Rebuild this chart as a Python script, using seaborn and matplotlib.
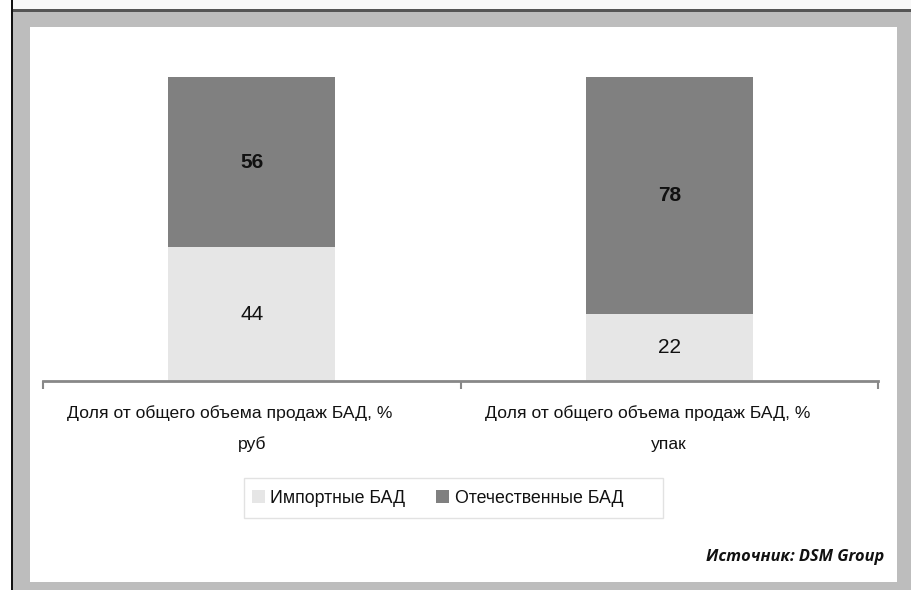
import matplotlib
matplotlib.use("Agg")
import matplotlib.pyplot as plt
from matplotlib.patches import Rectangle, Patch
import seaborn as sns
import pandas as pd

# Shares of dietary supplement sales, %
categories = ["руб", "упак"]
label_head = "Доля от общего объема продаж БАД, %"
imported = [44, 22]
domestic = [56, 78]
series_names = ["Импортные БАД", "Отечественные БАД"]
source_text = "Источник: DSM Group"

LIGHT = "#e6e6e6"
DARK = "#808080"
TEXT = "#111111"

sns.set_theme(style="white")
plt.rcParams["font.family"] = ["Liberation Sans", "DejaVu Sans"]

W, H = 911, 590
fig = plt.figure(figsize=(W / 100, H / 100), dpi=100)
fig.patch.set_facecolor("white")


def px_rect(x0, y0, x1, y1, color, z=-10, edge="none", lw=0):
    fig.patches.append(Rectangle((x0 / W, 1 - y1 / H), (x1 - x0) / W, (y1 - y0) / H,
                                 transform=fig.transFigure, facecolor=color,
                                 edgecolor=edge, linewidth=lw, zorder=z))


# page frame
px_rect(12, 0, W, 9, "#f8f8f8")
px_rect(12, 9, W, 12, "#555555")
px_rect(12, 12, W, H, "#bdbdbd")
px_rect(10.5, 0, 12.5, H, "#111111")
px_rect(30, 27, 897, 582, "white")
# legend box
px_rect(244, 478, 663, 518, "white", z=-5, edge="#e2e2e2", lw=1)

# plot area
ax_l, ax_r, ax_b, ax_t = 43, 878, 381, 77
ax = fig.add_axes([ax_l / W, 1 - ax_b / H, (ax_r - ax_l) / W, (ax_b - ax_t) / H])
ax.set_facecolor("none")

df = pd.DataFrame({"cat": categories, "imp": imported, "dom": domestic})
df["total"] = df["imp"] + df["dom"]

sns.barplot(data=df, x="cat", y="total", color=DARK, width=0.4, ax=ax,
            saturation=1, edgecolor="none")
sns.barplot(data=df, x="cat", y="imp", color=LIGHT, width=0.4, ax=ax,
            saturation=1, edgecolor="none")

ax.set_xlim(-0.5, len(categories) - 0.5)
ax.set_ylim(0, 100)
ax.set_xlabel("")
ax.set_ylabel("")
ax.set_yticks([])
ax.set_xticks(range(len(categories)))
ax.set_xticklabels([])
ax.tick_params(axis="x", which="major", length=0)
ax.set_xticks([i - 0.5 for i in range(len(categories) + 1)], minor=True)
ax.tick_params(axis="x", which="minor", length=5.5, width=1.5, color="#888888",
               direction="out", bottom=True)
for s in ["top", "left", "right"]:
    ax.spines[s].set_visible(False)
ax.spines["bottom"].set_color("#888888")
ax.spines["bottom"].set_linewidth(2)

# value labels
for i, (a, b) in enumerate(zip(imported, domestic)):
    ax.text(i, a / 2, f"{a}", ha="center", va="center", fontsize=15, color=TEXT)
    ax.text(i, a + b / 2, f"{b}", ha="center", va="center", fontsize=15,
            fontweight="bold", color=TEXT)

# category labels
for i, cat in enumerate(categories):
    ax.annotate(label_head, xy=(i, 0), xycoords=("data", "axes fraction"),
                xytext=(-22, -(413 - ax_b)), textcoords="offset pixels",
                ha="center", va="center", fontsize=12.6, color=TEXT)
    ax.annotate(cat, xy=(i, 0), xycoords=("data", "axes fraction"),
                xytext=(0, -(444 - ax_b)), textcoords="offset pixels",
                ha="center", va="center", fontsize=12.6, color=TEXT)

# legend
handles = [Patch(facecolor=LIGHT, edgecolor="none"), Patch(facecolor=DARK, edgecolor="none")]
leg = fig.legend(handles, series_names, loc="center left",
                 bbox_to_anchor=(252 / W, 1 - 498.5 / H),
                 ncol=2, frameon=False, fontsize=12.8, borderpad=0, borderaxespad=0,
                 handlelength=0.72, handleheight=0.72, handletextpad=0.3,
                 columnspacing=1.75)
for t in leg.get_texts():
    t.set_color(TEXT)

fig.text(884 / W, 1 - 557 / H, source_text, ha="right", va="center",
         fontsize=11.8, fontweight="bold", style="italic",
         family=["Open Sans", "DejaVu Sans"], color=TEXT)

fig.savefig("out.png", dpi=100)
